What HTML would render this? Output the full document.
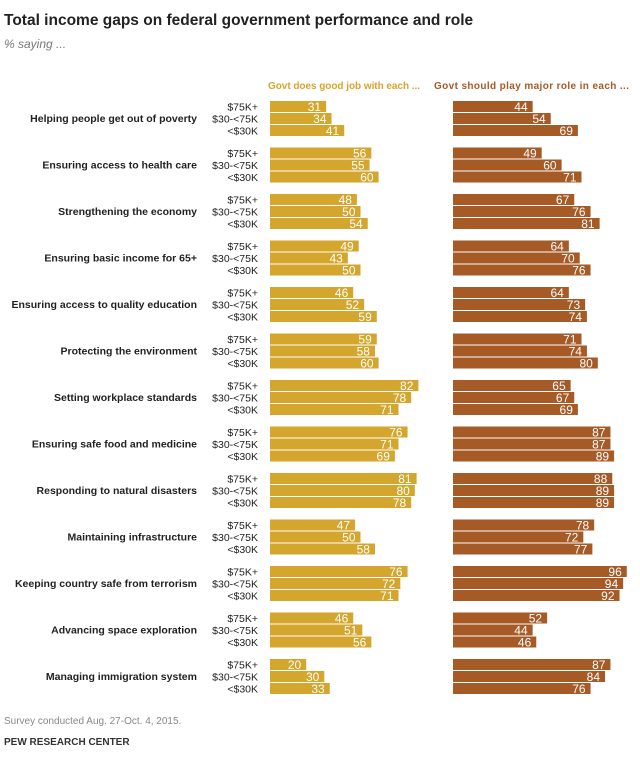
<!DOCTYPE html>
<html><head><meta charset="utf-8"><style>
body{margin:0;background:#fff;width:640px;height:764px;overflow:hidden;font-family:"Liberation Sans",sans-serif}
svg text{font-family:"Liberation Sans",sans-serif}
</style></head><body>
<svg id="c" width="640" height="764">
<text x="4" y="25" font-size="15.5" font-weight="bold" fill="#222">Total income gaps on federal government performance and role</text>
<text x="4" y="48" font-size="12" font-style="italic" fill="#777">% saying ...</text>
<text x="268" y="89" font-size="10" font-weight="bold" fill="#D4A62E" textLength="152">Govt does good job with each ...</text>
<text x="434" y="89" font-size="10" font-weight="bold" fill="#A65A26" textLength="195">Govt should play major role in each ...</text>
<text x="4" y="724" font-size="10" fill="#888">Survey conducted Aug. 27-Oct. 4, 2015.</text>
<text x="4" y="745" font-size="10" font-weight="bold" fill="#333">PEW RESEARCH CENTER</text>
</svg>
<script>
const categories=["Helping people  get out of poverty","Ensuring access to health care","Strengthening the economy","Ensuring basic income for 65+","Ensuring access to quality education","Protecting the environment","Setting workplace standards","Ensuring safe food and medicine","Responding to natural disasters","Maintaining infrastructure","Keeping country safe from terrorism","Advancing space exploration","Managing immigration system"];
const incomes=["$75K+","$30-<75K","<$30K"];
const goodJob=[[31,34,41],[56,55,60],[48,50,54],[49,43,50],[46,52,59],[59,58,60],[82,78,71],[76,71,69],[81,80,78],[47,50,58],[76,72,71],[46,51,56],[20,30,33]];
const majorRole=[[44,54,69],[49,60,71],[67,76,81],[64,70,76],[64,73,74],[71,74,80],[65,67,69],[87,87,89],[88,89,89],[78,72,77],[96,94,92],[52,44,46],[87,84,76]];
const svg=document.getElementById('c');const NS="http://www.w3.org/2000/svg";
const sc=1.81;const xL=v=>270+v*sc;const xR=v=>453+v*sc;
const yB=(g,i)=>101+g*46.5+i*12;
function mk(t,a){const e=document.createElementNS(NS,t);for(const k in a)e.setAttribute(k,a[k]);svg.appendChild(e);return e;}
categories.forEach((c,g)=>{
 const t=mk('text',{x:197,y:yB(g,1)+9,'font-size':10.5,'font-weight':'bold','text-anchor':'end',fill:'#222'});t.textContent=c;
 
 
 incomes.forEach((inc,i)=>{
  const y=yB(g,i);
  const l=mk('text',{x:258,y:y+9.5,'font-size':10.5,'text-anchor':'end',fill:'#222'});l.textContent=inc;
  
  
  [[goodJob,xL,270,'#D4A62E','good-job'],[majorRole,xR,453,'#A65A26','major-role']].forEach(([arr,fx,x0,col,nm])=>{
   const v=arr[g][i];
   const r=mk('rect',{x:x0,y:y,width:fx(v)-x0,height:11,fill:col});
   
   
   const vt=mk('text',{x:fx(v)-5,y:y+10,'font-size':12,'text-anchor':'end',fill:'#fff'});vt.textContent=v;
   
   
  });
 });
});
</script>
</body></html>
